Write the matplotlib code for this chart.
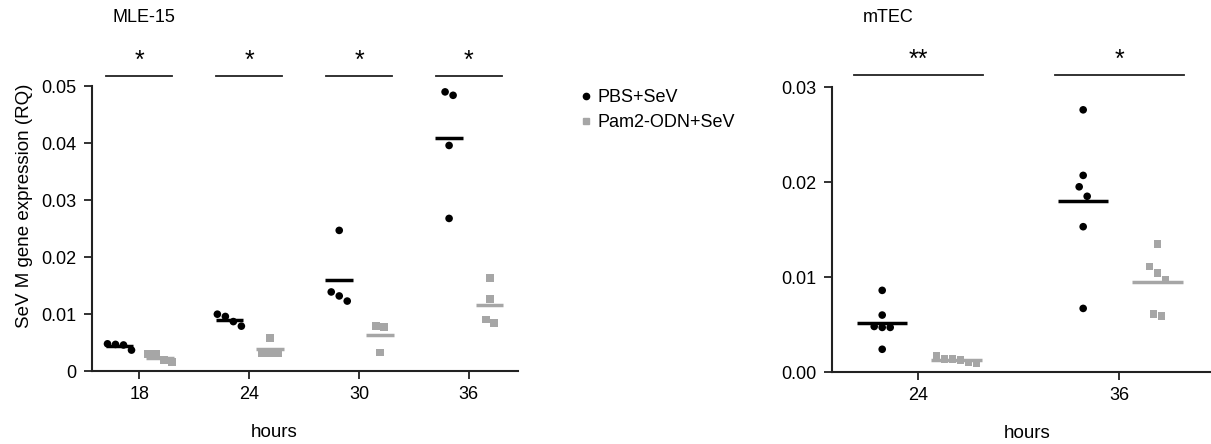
import matplotlib
matplotlib.use("Agg")
import matplotlib.pyplot as plt
import numpy as np

plt.rcParams['font.family'] = ['Liberation Sans', 'DejaVu Sans']

# MLE-15 data (hours 18, 24, 30, 36)
mle_hours = ['18', '24', '30', '36']
mle_pbs = [
    [0.0047, 0.0048, 0.0046, 0.0037],
    [0.0096, 0.0100, 0.0087, 0.0079],
    [0.0247, 0.0139, 0.0132, 0.0123],
    [0.0490, 0.0484, 0.0396, 0.0268],
]
mle_pam = [
    [0.0030, 0.0030, 0.0020, 0.0016],
    [0.0058, 0.0032, 0.0032, 0.0031],
    [0.0079, 0.0078, 0.0033],
    [0.0163, 0.0127, 0.0091, 0.0085],
]
mle_stars = ['*', '*', '*', '*']

# mTEC data (hours 24, 36)
mtec_hours = ['24', '36']
mtec_pbs = [
    [0.0086, 0.0060, 0.0048, 0.0047, 0.0047, 0.0024],
    [0.0276, 0.0207, 0.0195, 0.0185, 0.0153, 0.0067],
]
mtec_pam = [
    [0.0017, 0.0014, 0.0014, 0.0013, 0.0010, 0.0009],
    [0.0135, 0.0111, 0.0104, 0.0097, 0.0061, 0.0059],
]
mtec_stars = ['**', '*']

black = '#000000'
grey = '#a6a6a6'


def swarm_x(vals, center, ax, gap_px=10.0, step_px=8.0):
    # spread points that sit close together in y, symmetric around the center
    xl = ax.get_xlim()
    yl = ax.get_ylim()
    xppu = ax.bbox.width / (xl[1] - xl[0])
    yppu = ax.bbox.height / (yl[1] - yl[0])
    vals = np.asarray(vals)
    order = np.argsort(-vals)
    xs = np.zeros(len(vals))
    clusters = [[order[0]]]
    for i in order[1:]:
        if (vals[clusters[-1][-1]] - vals[i]) * yppu < gap_px:
            clusters[-1].append(i)
        else:
            clusters.append([i])
    for c in clusters:
        n = len(c)
        offs = (np.arange(n) - (n - 1) / 2) * step_px / xppu
        for k, i in enumerate(c):
            xs[i] = center + offs[k]
    return xs


def draw_panel(ax, hours, pbs, pam, stars, ymax, ytop, yticks, ylabels, bar_y, half_bar):
    ax.set_xlim(-0.43, len(hours) - 0.55)
    ax.set_ylim(0, ytop)
    for i in range(len(hours)):
        for vals, off, col, mk in [(pbs[i], -0.18, black, 'o'), (pam[i], 0.19, grey, 's')]:
            xs = swarm_x(vals, i + off, ax)
            ax.scatter(xs, vals, s=30, marker=mk, color=col, edgecolors='none', zorder=3)
            ax.plot([i + off - 0.125, i + off + 0.125], [np.mean(vals)] * 2,
                    color=col, lw=2.5, solid_capstyle='butt', zorder=4)
        ax.plot([i - half_bar, i + half_bar], [bar_y, bar_y], color='#222222', lw=1.3,
                clip_on=False)
        ax.text(i, bar_y + ymax * 0.012, stars[i], ha='center', va='bottom',
                fontsize=18, clip_on=False)
    ax.set_xticks(range(len(hours)))
    ax.set_xticklabels(hours)
    ax.set_yticks(yticks)
    ax.set_yticklabels(ylabels)
    ax.spines['top'].set_visible(False)
    ax.spines['right'].set_visible(False)
    ax.spines['left'].set_bounds(0, ymax)
    for s in ['left', 'bottom']:
        ax.spines[s].set_linewidth(1.5)
        ax.spines[s].set_color('#222222')
    ax.tick_params(axis='both', labelsize=13, width=1.3, length=6, color='#222222', pad=5)


fig = plt.figure(figsize=(12.11, 4.44), dpi=100)

ax1 = fig.add_axes([0.076, 0.164, 0.352, 0.7446])
draw_panel(ax1, mle_hours, mle_pbs, mle_pam, mle_stars, 0.05, 0.058,
           [0, 0.01, 0.02, 0.03, 0.04, 0.05], ['0', '0.01', '0.02', '0.03', '0.04', '0.05'],
           0.0518, 0.30)
ax1.set_ylabel('SeV M gene expression (RQ)', fontsize=13.5, labelpad=6)
ax1.set_xlabel('hours', fontsize=13.5)
ax1.xaxis.set_label_coords(0.427, -0.16)

ax2 = fig.add_axes([0.687, 0.162, 0.312, 0.749])
draw_panel(ax2, mtec_hours, mtec_pbs, mtec_pam, mtec_stars, 0.03, 0.035,
           [0, 0.01, 0.02, 0.03], ['0.00', '0.01', '0.02', '0.03'],
           0.03126, 0.32)
ax2.set_xlabel('hours', fontsize=13.5)
ax2.xaxis.set_label_coords(0.516, -0.16)

fig.text(113 / 1211, 1 - 17 / 444, 'MLE-15', fontsize=13, ha='left', va='center')
fig.text(863 / 1211, 1 - 17 / 444, 'mTEC', fontsize=13, ha='left', va='center')

h1 = plt.Line2D([], [], marker='o', color=black, ls='none', markersize=4.5)
h2 = plt.Line2D([], [], marker='s', color=grey, ls='none', markersize=4.5)
fig.legend([h1, h2], ['PBS+SeV', 'Pam2-ODN+SeV'], loc='upper left',
           bbox_to_anchor=(572 / 1211, 1 - 80 / 444), frameon=False, fontsize=13,
           handlelength=0.6, handletextpad=0.3, labelspacing=0.45, borderpad=0)

fig.savefig('out.png', dpi=100)
